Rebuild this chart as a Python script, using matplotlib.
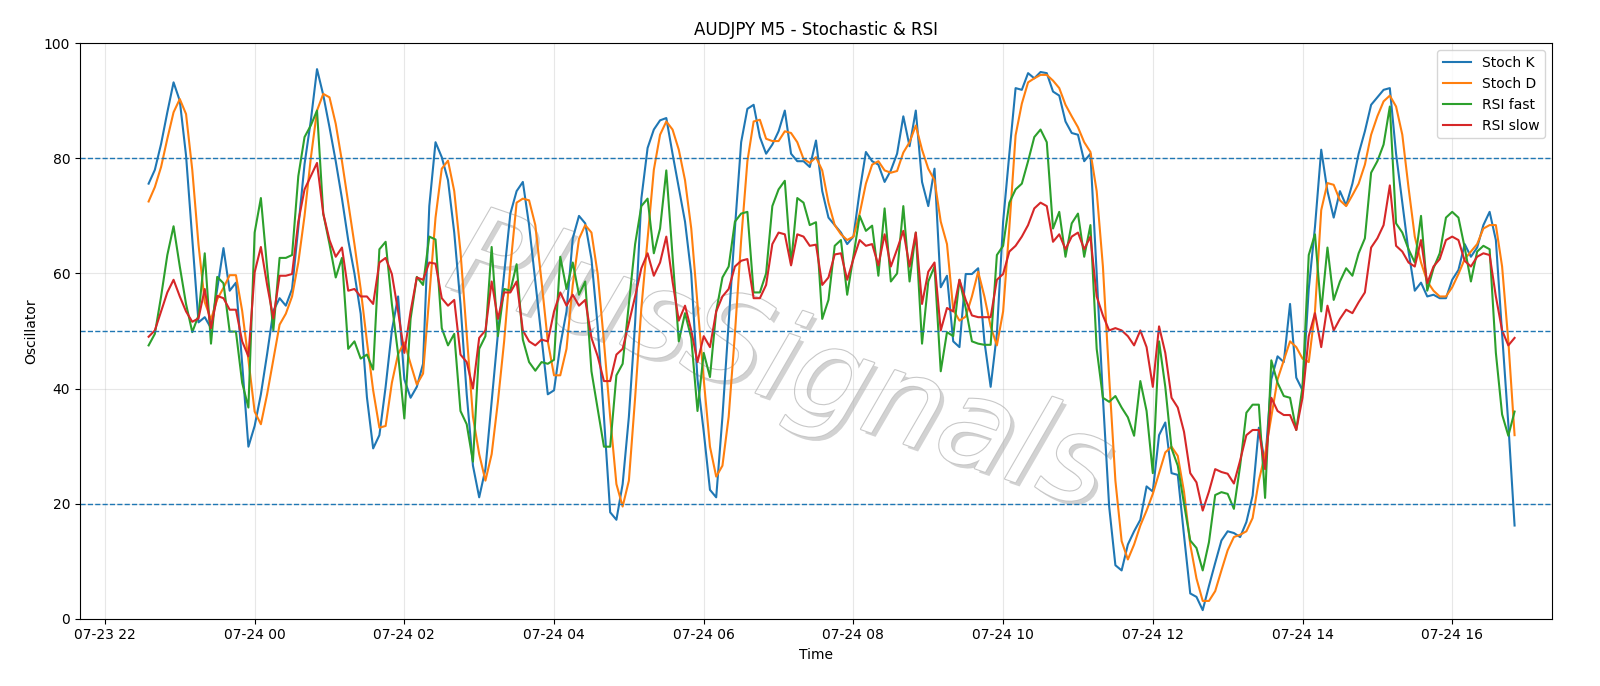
import matplotlib
matplotlib.use("Agg")
import matplotlib.pyplot as plt
import matplotlib.dates as mdates
import matplotlib.patheffects as pe
import pandas as pd

# 5-minute bars, 07-23 22:35 -> 07-24 16:50
times = pd.date_range("2024-07-23 22:35", periods=220, freq="5min")

stoch_k = [
    75.6, 78, 82.5, 88, 93.2, 90, 80.5, 66, 51.5, 52.4, 50.5, 57.3, 64.4, 57, 58.4, 44.3, 29.9, 33.5, 39, 46,
    53.5, 55.7, 54.4, 57.3, 68, 79, 86.5, 95.5, 91, 85.4, 79.5, 73, 65.8, 60, 53, 38.5, 29.6, 31.9, 40.3, 50.1,
    56, 41.6, 38.4, 40.3, 44.3, 71.7, 82.8, 80.2, 76.2, 67.1, 54.7, 39, 26.6, 21.1, 26, 37.7, 49.5, 59.9, 70.4, 74.3,
    75.9, 68.4, 58.6, 48.8, 39, 39.7, 47.5, 53.4, 66.1, 70, 68.7, 62.5, 50.8, 35.1, 18.5, 17.2, 23.4, 35.1, 51.4, 73,
    81.8, 85, 86.6, 87, 80.8, 74.9, 69, 59.9, 41.6, 32.5, 22.4, 21.1, 35.1, 51.4, 67.8, 82.8, 88.6, 89.3, 83.7, 80.8,
    82.4, 84.7, 88.3, 80.8, 79.5, 79.5, 78.5, 83.1, 74.3, 69.7, 68.4, 67.1, 65.1, 66.4, 74.3, 81.1, 79.5, 78.9, 75.9, 77.9,
    80.8, 87.3, 82.1, 88.3, 75.9, 71.7, 78.2, 57.6, 59.6, 48.2, 47.2, 59.9, 59.9, 60.9, 48.2, 40.3, 49.5, 69, 80.8, 92.2,
    91.9, 94.8, 93.9, 95, 94.8, 91.6, 90.9, 86.4, 84.4, 84.1, 79.5, 80.8, 60, 38.4, 19.5, 9.3, 8.4, 12.9, 15.2, 17.2,
    23, 22.1, 31.9, 34.1, 25.3, 25, 14.5, 4.4, 3.8, 1.5, 5.7, 9.7, 13.6, 15.2, 14.9, 14.2, 16.8, 21.4, 33.2, 27,
    41.6, 45.6, 44.6, 54.7, 41.9, 39.7, 57.3, 68.1, 81.5, 74.3, 69.7, 74.3, 71.8, 75.6, 80.8, 84.7, 89.3, 90.6, 91.9, 92.2,
    80.8, 72.3, 63.8, 57, 58.4, 56, 56.3, 55.7, 55.7, 58.9, 60.6, 65.1, 62.9, 64.5, 68.4, 70.7, 65.8, 49.5, 33.8, 16.2,
]

stoch_d = [
    72.5, 75, 78.5, 83.4, 88, 90.3, 87.7, 78, 65, 55, 52, 55.5, 57.5, 59.7, 59.7, 53.5, 45, 36, 33.8, 39,
    45, 51.1, 53, 56, 61.9, 70, 80, 88.3, 91.2, 90.6, 86, 79.5, 72.3, 65.1, 57.3, 48.2, 39.7, 33.2, 33.5, 41,
    46, 48, 44.3, 40.7, 42.6, 56, 69.7, 78.2, 79.6, 74.3, 63.8, 49.5, 35.1, 28.6, 24, 28.6, 37.7, 48.2, 61.2, 72.3,
    73, 72.7, 68.4, 58.6, 48.2, 42.3, 42.3, 46.9, 58, 66, 68.4, 67.1, 59.9, 48.2, 35.1, 23.4, 19.5, 24, 38.4, 54,
    66, 78, 84.1, 86.4, 85, 81.5, 76.2, 67.8, 54.7, 41.6, 29.9, 24.7, 26.6, 35.1, 49.5, 65.8, 79.5, 86.4, 86.7, 83.4,
    83, 83, 84.7, 84.4, 82.8, 79.9, 79.2, 80.2, 77.9, 72.3, 68.4, 66.8, 65.8, 66.4, 70.4, 75.6, 78.9, 79.5, 77.9, 77.5,
    77.8, 81, 82.8, 85.7, 81.5, 78.2, 76.2, 69, 65.1, 53.7, 51.8, 52.5, 56, 60.3, 56, 50.8, 47.5, 53.4, 68, 84,
    89.5, 93.2, 93.9, 94.5, 94.5, 93.5, 92.2, 89.3, 87.3, 85.4, 82.8, 81.1, 74.3, 61.2, 42, 24, 13.5, 10.3, 12.9, 16.2,
    18.8, 21.7, 25.3, 28.9, 29.9, 28.3, 22.1, 12.9, 7, 3.1, 3.1, 4.8, 8.4, 11.9, 14.2, 14.6, 15.2, 17.5, 24, 28.6,
    35.1, 41.6, 44.9, 48.2, 47.2, 45.2, 44.6, 53.4, 71, 75.7, 75.4, 72.7, 71.7, 73.6, 75.6, 78.9, 84.1, 87.3, 89.9, 90.9,
    89, 84.1, 74.9, 66.4, 61.9, 58.6, 57, 56, 56, 57.6, 59.9, 62.5, 63.8, 65.1, 67.8, 68.4, 68.4, 61.2, 48.2, 31.9,
]

rsi_fast = [
    47.5, 49.5, 56, 63.2, 68.2, 61.2, 54.7, 49.8, 52.7, 63.5, 47.8, 59.4, 58.3, 49.9, 49.9, 41, 36.7, 67.1, 73.1, 61,
    50.1, 62.7, 62.7, 63.2, 76.9, 83.7, 85.7, 88.3, 70.4, 65.1, 59.3, 62.7, 46.9, 48.2, 45.2, 45.9, 43.3, 64.2, 65.5, 54.7,
    46, 34.8, 52.1, 59.4, 58, 66.4, 65.9, 50.5, 47.5, 49.5, 36.1, 33.8, 27.3, 46.9, 49.1, 64.6, 49.1, 57.3, 57, 61.6,
    48.5, 44.6, 43.1, 44.6, 44.3, 45, 62.9, 57.3, 61.9, 56.3, 58.6, 43, 36.4, 29.9, 29.9, 42.3, 44.3, 54.7, 65.1, 71.7,
    73, 63.5, 67.8, 77.9, 63, 48.2, 53.1, 48.8, 36.1, 46.2, 42, 53.4, 59.3, 61.2, 69, 70.4, 70.7, 56.7, 56.7, 60,
    71.7, 74.6, 76.1, 61.6, 73.1, 72.3, 68.4, 68.9, 52.1, 55.4, 64.8, 65.8, 56.3, 63, 70, 67.4, 68.3, 59.6, 71.3, 58.6,
    60, 71.7, 58.6, 67.1, 47.8, 58.6, 61.2, 43, 49.8, 49.1, 58.9, 54, 48.2, 47.8, 47.6, 47.6, 63.2, 64.8, 72.3, 74.6,
    75.6, 79.5, 83.7, 85, 82.8, 67.8, 70.7, 62.9, 68.7, 70.4, 62.9, 68.4, 46.9, 38.4, 37.7, 38.7, 36.7, 35, 31.8, 41.3,
    36.1, 25.3, 48.2, 40.3, 29.6, 26.6, 20, 13.6, 12.3, 8.4, 13.3, 21.5, 22, 21.7, 19.1, 26.6, 35.8, 37.2, 37.2, 21,
    44.9, 41, 38.7, 38.4, 32.8, 40.3, 63.2, 66.8, 53.4, 64.5, 55.4, 58.6, 60.9, 59.6, 63.5, 66.1, 77.5, 79.5, 82.4, 89,
    68.7, 67.1, 64.2, 61.9, 70, 57, 60.9, 63.5, 69.7, 70.7, 69.7, 64.5, 58.6, 63.8, 64.8, 64.2, 46.2, 35.5, 31.8, 36,
]

rsi_slow = [
    49, 50.1, 53.4, 56.7, 58.9, 56, 53.4, 51.6, 52.2, 57.3, 50.5, 56.1, 55.7, 53.7, 53.7, 48.2, 45.6, 60.2, 64.6, 58,
    52.2, 59.6, 59.6, 59.9, 69, 74.6, 76.9, 79.2, 70.4, 65.8, 62.9, 64.5, 57, 57.3, 56, 56, 54.7, 61.9, 62.7, 59.9,
    53.4, 46.2, 53.4, 59.3, 58.9, 61.9, 61.7, 55.7, 54.4, 55.4, 45.9, 44.6, 40, 48.8, 50.1, 58.6, 52.1, 56.7, 56.7, 58.6,
    50.1, 48.2, 47.5, 48.5, 48.2, 53.4, 56.7, 54.4, 56.3, 54.4, 55.4, 48.8, 45.6, 41.3, 41.3, 45.9, 46.9, 51.4, 56, 60.9,
    63.5, 59.6, 61.9, 66.4, 58.6, 51.8, 54.4, 50.1, 44.6, 49.1, 47.2, 53.4, 56, 57.3, 61.2, 62.2, 62.5, 55.7, 55.7, 58,
    65.1, 67.1, 66.8, 61.4, 66.8, 66.4, 64.8, 65, 58, 59.3, 63.3, 63.5, 58.9, 62.5, 65.8, 64.8, 65.1, 61.4, 66.8, 61.2,
    64.2, 67.4, 61.2, 67.1, 54.7, 60.3, 61.9, 50.1, 54, 53.4, 58.9, 55.4, 52.7, 52.4, 52.4, 52.4, 58.9, 59.9, 63.8, 64.8,
    66.4, 68.4, 71.3, 72.3, 71.7, 65.5, 66.8, 64.2, 66.4, 67.1, 64.2, 66.4, 56, 52.7, 50.1, 50.5, 50.1, 49.1, 47.5, 50.1,
    47.2, 40.3, 50.8, 46.2, 38.4, 36.7, 32.5, 25.3, 23.7, 18.8, 22.1, 26, 25.5, 25.2, 23.5, 27.5, 31.9, 32.8, 32.8, 26,
    38.4, 36.1, 35.4, 35.4, 32.8, 38.4, 49.1, 53.1, 47.2, 54.4, 50.1, 52.1, 53.7, 53.1, 55, 56.7, 64.5, 66.1, 68.4, 75.3,
    64.8, 63.8, 61.9, 61.2, 65.8, 58.3, 61.2, 62.5, 65.8, 66.4, 65.8, 62.2, 61.2, 62.9, 63.5, 63.2, 56, 50.1, 47.5, 48.8,
]

levels = [20, 50, 80]

fig = plt.figure(figsize=(16, 6.86), dpi=100)
ax = fig.add_axes([0.05, 0.098, 0.92, 0.839])

ax.plot(times, stoch_k, label="Stoch K")
ax.plot(times, stoch_d, label="Stoch D")
ax.plot(times, rsi_fast, label="RSI fast")
ax.plot(times, rsi_slow, label="RSI slow")
for lv in levels:
    ax.axhline(lv, color="C0", linestyle="--", linewidth=1)

# watermark: hollow light letters with a soft shadow
ax.text(0.475, 0.44, "PlusSignals", transform=ax.transAxes, fontsize=88,
        color="white", ha="center", va="center", rotation=-19,
        fontstyle="italic",
        path_effects=[pe.withSimplePatchShadow(offset=(3, -3), shadow_rgbFace="gray", alpha=0.35),
                      pe.Stroke(linewidth=1.6, foreground="#c8c8c8"), pe.Normal()],
        zorder=0.5)

ax.set_ylim(0, 100)
ax.set_xlim(pd.Timestamp("2024-07-23 21:40"), pd.Timestamp("2024-07-24 17:20"))
ax.xaxis.set_major_locator(mdates.HourLocator(byhour=range(0, 24, 2)))
ax.xaxis.set_major_formatter(mdates.DateFormatter("%m-%d %H"))
ax.grid(True, alpha=0.3)
ax.set_title("AUDJPY M5 - Stochastic & RSI")
ax.set_xlabel("Time")
ax.set_ylabel("Oscillator")
ax.legend(loc="upper right")

fig.savefig("out.png", dpi=100)
